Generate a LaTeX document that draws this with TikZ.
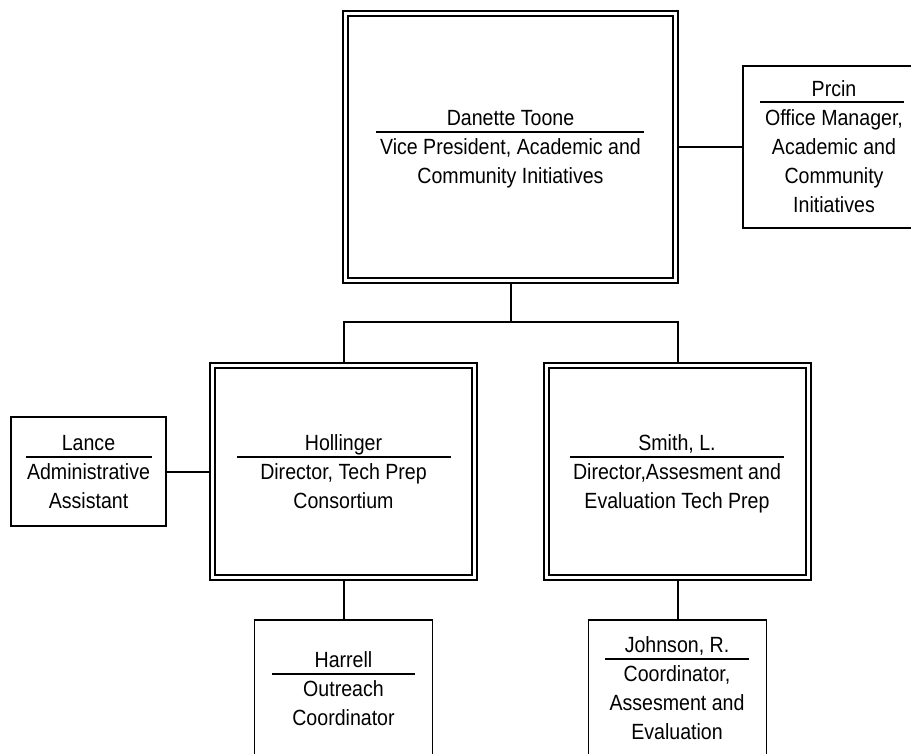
\documentclass[tikz,border=0pt]{standalone}
\usepackage{fontspec}
\setmainfont{Liberation Sans}[FakeStretch=0.89]
\begin{document}
\begin{tikzpicture}[x=1pt,y=-1pt,
  lw/.style={line width=1.8pt},
  dbox/.style={draw, lw, double, double distance=3.2pt, inner sep=0pt, outer sep=3.4pt, rectangle},
  sbox/.style={draw, lw, inner sep=0pt, outer sep=0.9pt, rectangle},
  txt/.style={inner sep=0pt, anchor=base, align=center, font=\fontsize{22}{29}\selectfont},
  conn/.style={line width=2pt},
  namerule/.style={lw}]
\clip (0,0) rectangle (911,754);
\fill[white] (0,0) rectangle (911,754);
% boxes
\node[dbox, minimum width=330pt, minimum height=267pt] (vp) at (510.5,147) {};
\node[sbox, minimum width=187pt, minimum height=162pt] (prc) at (836.5,147) {};
\node[sbox, minimum width=155pt, minimum height=109pt] (lan) at (88.5,471.5) {};
\node[dbox, minimum width=262pt, minimum height=212pt] (hol) at (343.5,471.5) {};
\node[dbox, minimum width=262pt, minimum height=212pt] (smi) at (677.5,471.5) {};
\node[sbox, minimum width=178pt, minimum height=160pt] (har) at (343.5,700) {};
\node[sbox, minimum width=178pt, minimum height=160pt] (joh) at (677.5,700) {};
% texts (body nodes are anchored at the baseline of their last line)
\node[txt] (vpn) at (510.5,126) {Danette Toone};
\draw[namerule] (376,132) -- (644,132);
\node[txt] (vpt) at (510.5,184) {Vice President, Academic and\\Community Initiatives};

\node[txt] (prn) at (834,97) {Prcin};
\draw[namerule] (760,102) -- (904,102);
\node[txt] (prt) at (834,213) {Office Manager,\\Academic and\\Community\\Initiatives};

\node[txt] (lnn) at (88.5,450) {Lance};
\draw[namerule] (26,457) -- (152,457);
\node[txt] (lnt) at (88.5,508) {Administrative\\Assistant};

\node[txt] (hon) at (343.5,450) {Hollinger};
\draw[namerule] (237,457) -- (451,457);
\node[txt] (hot) at (343.5,508) {Director, Tech Prep\\Consortium};

\node[txt] (smn) at (677,450) {Smith, L.};
\draw[namerule] (570,457) -- (784,457);
\node[txt] (smt) at (677,508) {Director,Assesment and\\Evaluation Tech Prep};

\node[txt] (han) at (343.5,667) {Harrell};
\draw[namerule] (272,674) -- (415,674);
\node[txt] (hat) at (343.5,725) {Outreach\\Coordinator};

\node[txt] (jon) at (677,652) {Johnson, R.};
\draw[namerule] (605,659) -- (749,659);
\node[txt] (jot) at (677,739) {Coordinator,\\Assesment and\\Evaluation};
% connectors
\coordinate (bus) at (510.5,322);
\draw[conn] (vp.south) -- (bus);
\draw[conn] (hol.north) |- (bus) -| (smi.north);
\draw[conn] (vp.east) -- (prc.west);
\draw[conn] (lan.east) -- (hol.west);
\draw[conn] (hol.south) -- (har.north);
\draw[conn] (smi.south) -- (joh.north);
\end{tikzpicture}
\end{document}
